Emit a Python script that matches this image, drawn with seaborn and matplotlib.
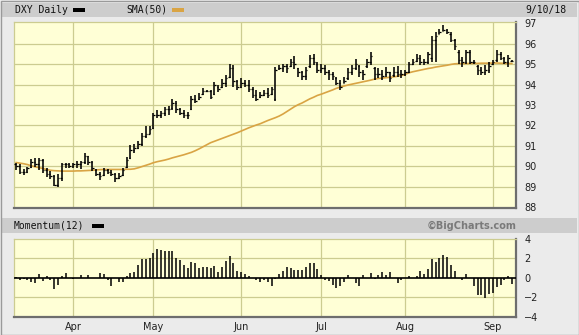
import matplotlib
matplotlib.use("Agg")
import matplotlib.pyplot as plt
import seaborn as sns
import numpy as np
from matplotlib.patches import Rectangle

# ---------------- data ----------------
month_labels = ["Apr", "May", "Jun", "Jul", "Aug", "Sep"]
month_start_idx = [15, 36, 59, 80, 102, 125]
price_ticks = [88, 89, 90, 91, 92, 93, 94, 95, 96, 97]
mom_ticks = [-4, -2, 0, 2, 4]

high = [90.18, 90.10, 89.85, 89.98, 90.34, 90.39, 90.42, 90.37, 89.93, 89.77, 89.56, 89.60, 90.18, 90.18, 90.18,
        90.18, 90.26, 90.26, 90.63, 90.50, 90.26, 89.85, 89.72, 89.93, 89.85, 89.80, 89.69, 89.69, 89.93, 90.46,
        91.02, 91.07, 91.24, 91.64, 91.97, 91.97,
        92.60, 92.77, 92.69, 92.90, 92.97, 93.29, 93.18, 92.85, 92.77, 92.65, 93.42, 93.50, 93.58, 93.82, 93.74,
        93.74, 94.15, 93.98, 94.26, 94.47, 95.00, 94.95, 94.23,
        94.31, 94.23, 94.23, 93.90, 93.74, 93.66, 93.74, 93.82, 93.90, 94.87, 94.95, 95.03, 95.03, 95.27, 95.40,
        94.80, 94.65, 94.87, 95.44, 95.52, 95.11,
        95.03, 94.95, 94.71, 94.63, 94.39, 94.23, 94.39, 94.79, 94.95, 95.27, 94.95, 94.71, 95.27, 95.60, 94.87,
        94.79, 94.71, 94.87, 94.63, 94.87, 94.90, 94.71,
        94.71, 95.11, 95.27, 95.48, 95.44, 95.27, 95.60, 96.40, 96.56, 96.73, 96.94, 96.73, 96.56, 96.24, 95.68,
        95.35, 95.68, 95.68, 95.19, 94.95, 94.87, 94.95, 95.11,
        95.19, 95.68, 95.60, 95.35, 95.44, 95.19]
low = [89.82, 89.61, 89.58, 89.66, 89.93, 89.98, 89.82, 89.69, 89.45, 89.37, 89.01, 88.96, 89.28, 89.93, 89.89,
       89.89, 89.93, 89.85, 90.10, 90.05, 89.77, 89.53, 89.33, 89.53, 89.61, 89.50, 89.24, 89.37, 89.53, 89.93,
       90.34, 90.67, 90.83, 91.00, 91.40, 91.56,
       91.80, 92.37, 92.37, 92.45, 92.53, 92.77, 92.61, 92.53, 92.37, 92.29, 92.77, 93.10, 93.26, 93.50, 93.64,
       93.29, 93.50, 93.66, 93.82, 93.90, 94.30, 93.90, 93.74,
       93.82, 93.90, 93.66, 93.34, 93.18, 93.34, 93.42, 93.34, 93.50, 93.18, 94.71, 94.63, 94.55, 94.87, 94.75,
       94.39, 94.23, 94.23, 94.79, 94.95, 94.55,
       94.55, 94.47, 94.23, 94.23, 93.98, 93.74, 94.06, 94.23, 94.47, 94.71, 94.39, 94.23, 94.79, 94.95, 94.23,
       94.31, 94.23, 94.39, 94.15, 94.39, 94.35, 94.31,
       94.42, 94.55, 94.95, 95.11, 94.95, 94.95, 95.03, 95.11, 95.11, 96.48, 96.61, 96.48, 96.08, 95.68, 95.03,
       94.87, 95.03, 95.03, 95.03, 94.47, 94.47, 94.47, 94.55,
       94.95, 95.11, 95.19, 95.03, 94.87, 95.11]
open_ = [90.10, 90.00, 89.70, 89.70, 89.95, 90.20, 90.10, 90.30, 89.80, 89.60, 89.50, 89.10, 89.40, 90.10, 90.10,
         90.00, 90.10, 90.10, 90.20, 90.50, 90.20, 89.80, 89.60, 89.55, 89.80, 89.70, 89.60, 89.40, 89.55, 89.95,
         90.40, 90.80, 90.90, 91.10, 91.50, 91.60,
         91.85, 92.50, 92.50, 92.60, 92.80, 92.85, 93.10, 92.80, 92.60, 92.50, 92.80, 93.30, 93.30, 93.55, 93.70,
         93.70, 93.55, 93.90, 93.90, 94.10, 94.35, 94.80, 94.20,
         93.90, 94.10, 94.00, 93.80, 93.50, 93.40, 93.50, 93.60, 93.55, 93.30, 94.80, 94.80, 94.90, 94.90, 95.10,
         94.80, 94.60, 94.40, 94.90, 95.30, 95.00,
         94.70, 94.80, 94.60, 94.50, 94.30, 94.10, 94.10, 94.30, 94.60, 94.80, 94.90, 94.60, 94.90, 95.10, 94.80,
         94.50, 94.50, 94.50, 94.60, 94.45, 94.60, 94.50,
         94.50, 94.60, 95.00, 95.15, 95.30, 95.10, 95.10, 95.30, 96.20, 96.50, 96.65, 96.70, 96.50, 96.20, 95.60,
         95.20, 95.10, 95.60, 95.10, 94.90, 94.70, 94.60, 94.70,
         95.00, 95.20, 95.50, 95.30, 95.10, 95.15]
close = [90.00, 89.70, 89.70, 89.90, 90.20, 90.10, 90.30, 89.80, 89.60, 89.50, 89.10, 89.40, 90.10, 90.10, 90.00,
         90.10, 90.10, 90.20, 90.50, 90.20, 89.90, 89.60, 89.50, 89.80, 89.70, 89.60, 89.40, 89.50, 89.80, 90.30,
         90.80, 90.90, 91.10, 91.50, 91.60, 91.80,
         92.50, 92.50, 92.60, 92.80, 92.80, 93.10, 92.80, 92.60, 92.50, 92.50, 93.30, 93.20, 93.40, 93.70, 93.70,
         93.40, 94.00, 93.80, 94.10, 94.30, 94.80, 94.20, 93.90,
         94.10, 94.00, 93.80, 93.50, 93.30, 93.50, 93.60, 93.50, 93.80, 94.70, 94.80, 94.90, 94.80, 95.10, 95.00,
         94.60, 94.40, 94.70, 95.30, 95.10, 94.70,
         94.80, 94.60, 94.50, 94.40, 94.10, 93.90, 94.20, 94.60, 94.80, 95.00, 94.60, 94.50, 95.10, 95.40, 94.50,
         94.50, 94.40, 94.60, 94.30, 94.60, 94.50, 94.50,
         94.60, 95.00, 95.10, 95.30, 95.10, 95.10, 95.50, 96.20, 96.40, 96.60, 96.70, 96.60, 96.20, 95.90, 95.20,
         95.10, 95.60, 95.10, 95.10, 94.70, 94.60, 94.70, 94.90,
         95.10, 95.50, 95.30, 95.10, 95.30, 95.15]
sma50 = [90.18, 90.15, 90.12, 90.08, 90.02, 89.97, 89.93, 89.89, 89.84, 89.80, 89.78, 89.77, 89.76, 89.76, 89.76,
         89.76, 89.77, 89.77, 89.78, 89.79, 89.80, 89.82, 89.83, 89.84, 89.84, 89.84, 89.84, 89.84, 89.84, 89.85,
         89.85, 89.87, 89.92, 89.98, 90.04, 90.10,
         90.17, 90.22, 90.26, 90.30, 90.35, 90.41, 90.46, 90.51, 90.56, 90.62, 90.68, 90.76, 90.85, 90.95, 91.05,
         91.15, 91.22, 91.29, 91.36, 91.43, 91.50, 91.57, 91.64,
         91.72, 91.80, 91.88, 91.95, 92.02, 92.08, 92.16, 92.24, 92.31, 92.38, 92.46, 92.56, 92.68, 92.80, 92.92,
         93.02, 93.10, 93.20, 93.30, 93.38, 93.47,
         93.53, 93.60, 93.67, 93.74, 93.82, 93.88, 93.93, 93.98, 94.02, 94.06, 94.10, 94.14, 94.18, 94.22, 94.27,
         94.30, 94.32, 94.34, 94.36, 94.38, 94.41, 94.44,
         94.50, 94.58, 94.63, 94.67, 94.71, 94.75, 94.79, 94.82, 94.86, 94.89, 94.92, 94.95, 94.99, 95.02, 95.03,
         95.03, 95.03, 95.04, 95.04, 95.04, 95.05, 95.05, 95.05,
         95.06, 95.06, 95.05, 95.04, 95.04, 95.03]
momentum = [0.10, -0.20, -0.15, -0.20, -0.45, -0.55, 0.35, -0.35, 0.15, -0.25, -1.20, -0.75, 0.15, 0.45, 0.00,
            -0.15, 0.00, 0.30, 0.00, 0.25, 0.00, 0.00, 0.45, 0.35, -0.25, -0.80, 0.00, -0.45, -0.40, 0.15,
            0.45, 0.60, 1.30, 1.90, 1.90, 2.00,
            2.55, 3.00, 2.85, 2.80, 2.80, 2.75, 2.00, 1.80, 1.30, 1.00, 1.60, 1.50, 1.05, 1.10, 1.10,
            1.00, 1.20, 0.55, 1.10, 1.70, 2.20, 1.55, 0.65,
            0.55, 0.40, 0.20, 0.00, -0.20, -0.45, -0.20, -0.40, -0.80, -0.15, 0.40, 0.65, 1.10, 1.00, 0.85,
            0.75, 0.85, 1.10, 1.55, 1.55, 0.90,
            0.25, -0.20, -0.35, -0.75, -1.10, -0.85, -0.45, 0.30, 0.00, -0.50, -0.85, 0.25, 0.00, 0.50, -0.15,
            0.25, 0.60, 0.30, 0.55, 0.00, -0.50, -0.25,
            0.00, 0.15, 0.00, 0.15, 0.70, 0.35, 0.90, 1.90, 1.65, 2.00, 2.35, 2.10, 1.30, 0.70, 0.00,
            -0.25, 0.35, 0.00, -0.80, -1.80, -1.80, -2.05, -1.65,
            -1.60, -1.00, -0.75, -0.25, 0.15, -0.60]

# ---------------- style ----------------
W, H = 579, 335
BG = "#EBEBEB"
BAND = "#CDCDCD"
PLOT_BG = "#FFFFD6"
GRID = "#CCCC90"
SMA_C = "#D9A444"
EDGE = "#6E6E6E"

sns.set_style("white")
plt.rcParams["font.family"] = ["DejaVu Sans"]

fig = plt.figure(figsize=(W / 100, H / 100), dpi=100, facecolor=BG)


def fx(px):
    return px / W


def fy(py):
    return 1 - py / H


# header bands
for (y0, y1) in [(3, 17), (218, 233)]:
    fig.patches.append(Rectangle((fx(2), fy(y1)), fx(575), (y1 - y0) / H,
                                 transform=fig.transFigure, facecolor=BAND, edgecolor="none", zorder=0))
# outer border
fig.patches.append(Rectangle((fx(0.5), fy(334.5)), fx(578), 334 / H, transform=fig.transFigure,
                             facecolor="none", edgecolor="#9A9A9A", lw=1.0, zorder=5))

n = len(close)
idx = np.arange(n)
xlim = (-0.52, 131.06)

# ---------------- main price panel ----------------
ax = fig.add_axes([fx(14), fy(208), fx(502), (208 - 22) / H])
ax.set_facecolor(PLOT_BG)
ax.set_xlim(*xlim)
ax.set_ylim(87.95, 97.07)
for v in price_ticks[1:-1]:
    ax.axhline(v, color=GRID, lw=0.9, zorder=1)
for m in month_start_idx:
    ax.axvline(m, color=GRID, lw=0.9, zorder=1)

sns.lineplot(x=idx, y=sma50, ax=ax, color=SMA_C, lw=1.2, zorder=2, legend=False)
ax.vlines(idx, low, high, color="black", lw=1.15, zorder=3)
ax.hlines(close, idx, idx + 0.4, color="black", lw=0.9, zorder=3)
ax.hlines(open_, idx - 0.4, idx, color="black", lw=0.9, zorder=3)

ax.set_yticks(price_ticks)
ax.set_yticklabels([str(t) for t in price_ticks])
ax.yaxis.tick_right()
ax.tick_params(axis="y", length=0, pad=6, labelsize=7, labelcolor="#222222")
ax.set_xticks([])
ax.set_xlabel("")
ax.set_ylabel("")
for s in ["left", "top"]:
    ax.spines[s].set_color(GRID)
    ax.spines[s].set_linewidth(0.9)
for s in ["bottom", "right"]:
    ax.spines[s].set_color(EDGE)
    ax.spines[s].set_linewidth(1.6)

# ---------------- momentum panel ----------------
ax2 = fig.add_axes([fx(14), fy(317), fx(502), (317 - 239) / H])
ax2.set_facecolor(PLOT_BG)
ax2.set_xlim(*xlim)
ax2.set_ylim(-4.05, 4.0)
for v in [2, -2]:
    ax2.axhline(v, color=GRID, lw=0.9, zorder=1)
for m in month_start_idx:
    ax2.axvline(m, color=GRID, lw=0.9, zorder=1)
ax2.axhline(0, color="black", lw=1.2, zorder=3)
ax2.vlines(idx, 0, momentum, color="black", lw=1.1, zorder=3)
ax2.set_yticks(mom_ticks)
ax2.set_yticklabels([str(t).replace("-", "\u2212") for t in mom_ticks])
ax2.yaxis.tick_right()
ax2.tick_params(axis="y", length=0, pad=6, labelsize=7, labelcolor="#222222")
ax2.set_xticks(month_start_idx)
ax2.set_xticklabels(month_labels)
ax2.tick_params(axis="x", length=0, pad=3.5, labelsize=7, labelcolor="#222222")
for s in ["left", "top"]:
    ax2.spines[s].set_color(GRID)
    ax2.spines[s].set_linewidth(0.9)
for s in ["bottom", "right"]:
    ax2.spines[s].set_color(EDGE)
    ax2.spines[s].set_linewidth(1.6)

# ---------------- header texts ----------------
mono = ["DejaVu Sans Mono"]
fig.text(fx(15), fy(10), "DXY Daily", family=mono, fontsize=7, va="center", ha="left", color="#111111")
fig.patches.append(Rectangle((fx(73), fy(12)), fx(12), 4 / H, transform=fig.transFigure,
                             facecolor="black", edgecolor="none"))
fig.text(fx(126), fy(10), "SMA(50)", family=mono, fontsize=7, va="center", ha="left", color="#111111")
fig.patches.append(Rectangle((fx(172), fy(12)), fx(12), 4 / H, transform=fig.transFigure,
                             facecolor=SMA_C, edgecolor="none"))
fig.text(fx(566), fy(10), "9/10/18", family=mono, fontsize=7, va="center", ha="right", color="#111111")

fig.text(fx(14), fy(225.5), "Momentum(12)", family=mono, fontsize=7, va="center", ha="left", color="#111111")
fig.patches.append(Rectangle((fx(92), fy(227.5)), fx(12), 4 / H, transform=fig.transFigure,
                             facecolor="black", edgecolor="none"))
fig.text(fx(516), fy(225.5), "\u00a9BigCharts.com", fontsize=7, fontweight="bold", va="center",
         ha="right", color="#7A7A7A")

fig.savefig("out.png", dpi=100, facecolor=BG)
